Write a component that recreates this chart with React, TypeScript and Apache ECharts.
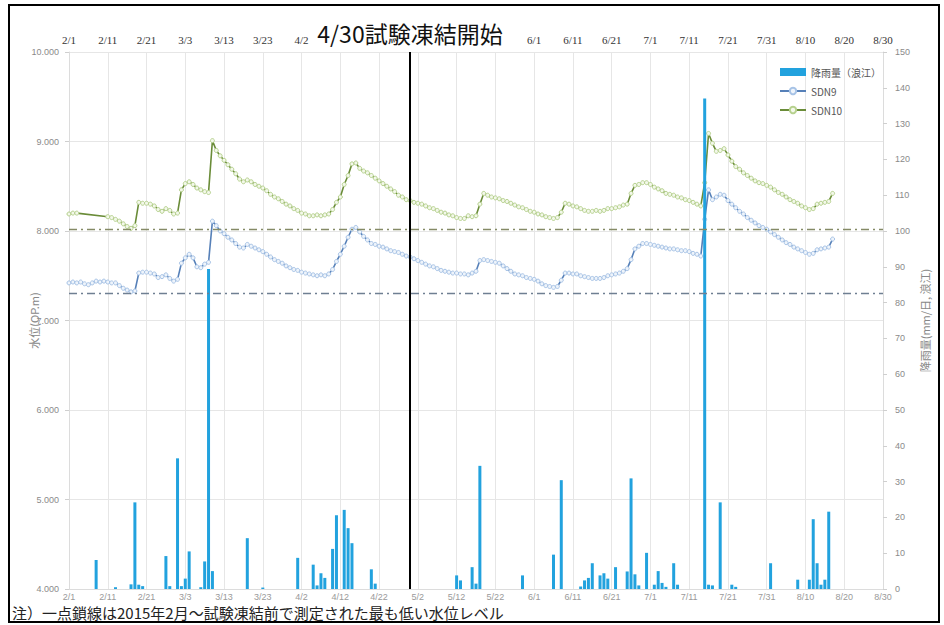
import React, { useEffect, useRef } from "react";
import * as echarts from "echarts";

// ---- categories (daily, 2015/2/1 .. 2015/8/30) ----
const START_YEAR = 2015;
const START_MONTH = 1; // February (0-based)
const N_DAYS = 211;
const CATEGORIES: string[] = Array.from({ length: N_DAYS }, (_, i) => {
  const d = new Date(START_YEAR, START_MONTH, 1 + i);
  return `${d.getMonth() + 1}/${d.getDate()}`;
});
const TICK_LABELS = ["2/1", "2/11", "2/21", "3/3", "3/13", "3/23", "4/2", "4/12", "4/22", "5/2", "5/12", "5/22", "6/1", "6/11", "6/21", "7/1", "7/11", "7/21", "7/31", "8/10", "8/20", "8/30"];
// top-axis labels hidden behind the title box
const TOP_HIDDEN = ["4/12", "4/22", "5/2", "5/12", "5/22"];

// ---- water level SDN10 (OP.m), daily from 2/1 ----
const SDN10: (number | null)[] = [
  8.19, 8.2, 8.2, null, null, null, null, null, null, null,
  8.16, 8.15, 8.13, 8.11, 8.08, 8.05, 8.03, 8.06, 8.32, 8.31,
  8.31, 8.3, 8.28, 8.24, 8.22, 8.25, 8.23, 8.19, 8.2, 8.46,
  8.53, 8.55, 8.52, 8.48, 8.46, 8.44, 8.43, 9.01, 8.9, 8.84,
  8.79, 8.74, 8.69, 8.64, 8.58, 8.55, 8.57, 8.55, 8.52, 8.5,
  8.48, 8.45, 8.41, 8.38, 8.36, 8.33, 8.3, 8.28, 8.25, 8.23,
  8.2, 8.19, 8.17, 8.17, 8.18, 8.17, 8.18, 8.19, 8.24, 8.32,
  8.38, 8.52, 8.62, 8.75, 8.76, 8.7, 8.67, 8.65, 8.62, 8.59,
  8.56, 8.53, 8.5, 8.47, 8.44, 8.4, 8.38, 8.35, 8.34, 8.32,
  8.31, 8.3, 8.28, 8.26, 8.25, 8.23, 8.21, 8.2, 8.18, 8.17,
  8.15, 8.14, 8.14, 8.17, 8.16, 8.17, 8.3, 8.42, 8.4, 8.38,
  8.37, 8.36, 8.34, 8.33, 8.31, 8.29, 8.27, 8.26, 8.24, 8.22,
  8.21, 8.19, 8.18, 8.16, 8.15, 8.14, 8.15, 8.21, 8.31, 8.3,
  8.28, 8.27, 8.25, 8.23, 8.22, 8.22, 8.23, 8.22, 8.23, 8.25,
  8.25, 8.26, 8.27, 8.29, 8.3, 8.42, 8.51, 8.52, 8.54, 8.54,
  8.52, 8.49, 8.47, 8.45, 8.42, 8.41, 8.4, 8.38, 8.37, 8.35,
  8.34, 8.32, 8.3, 8.28, 8.54, 9.09, 8.98, 8.89, 8.9, 8.92,
  8.85, 8.78, 8.72, 8.69, 8.65, 8.62, 8.59, 8.56, 8.54, 8.53,
  8.51, 8.49, 8.46, 8.43, 8.41, 8.38, 8.35, 8.33, 8.31, 8.28,
  8.26, 8.24, 8.25, 8.3, 8.31, 8.32, 8.33, 8.42,
];

// ---- water level SDN9 (OP.m), daily from 2/1 ----
const SDN9: (number | null)[] = [
  7.42, 7.43, 7.42, 7.43, 7.41, 7.4, 7.42, 7.44, 7.43, 7.44,
  7.43, 7.42, 7.42, 7.39, 7.36, 7.34, 7.32, 7.33, 7.53, 7.54,
  7.54, 7.53, 7.52, 7.48, 7.49, 7.51, 7.47, 7.44, 7.46, 7.64,
  7.7, 7.74, 7.7, 7.6, 7.59, 7.63, 7.65, 8.11, 8.06, 8.0,
  7.97, 7.93, 7.9, 7.86, 7.82, 7.81, 7.85, 7.83, 7.81, 7.79,
  7.77, 7.74, 7.71, 7.68, 7.66, 7.64, 7.61, 7.59, 7.57, 7.56,
  7.54, 7.53, 7.52, 7.51, 7.5, 7.51, 7.5, 7.52, 7.57, 7.66,
  7.74, 7.83, 7.93, 8.02, 8.04, 7.99, 7.94, 7.9, 7.86, 7.85,
  7.83, 7.82, 7.8, 7.78, 7.77, 7.76, 7.74, 7.72, 7.71, 7.69,
  7.67, 7.65, 7.63, 7.61, 7.6, 7.58, 7.56, 7.55, 7.54, 7.53,
  7.53, 7.52, 7.52, 7.51, 7.53, 7.55, 7.67, 7.68, 7.67, 7.66,
  7.65, 7.64, 7.61, 7.58, 7.55, 7.52, 7.51, 7.5, 7.48, 7.47,
  7.46, 7.44, 7.41, 7.39, 7.38, 7.37, 7.38, 7.45, 7.53, 7.53,
  7.52, 7.52, 7.5, 7.49, 7.48, 7.47, 7.47, 7.47, 7.48, 7.5,
  7.51, 7.52, 7.53, 7.55, 7.58, 7.68, 7.8, 7.83, 7.86, 7.86,
  7.85, 7.84, 7.83, 7.82, 7.81, 7.8, 7.8, 7.79, 7.78, 7.78,
  7.77, 7.75, 7.74, 7.72, 8.13, 8.46, 8.35, 8.38, 8.41, 8.4,
  8.34, 8.3, 8.26, 8.22, 8.19, 8.15, 8.12, 8.09, 8.06, 8.04,
  8.02, 7.99, 7.96, 7.93, 7.9, 7.87, 7.85, 7.82, 7.8, 7.78,
  7.76, 7.74, 7.75, 7.79, 7.8, 7.81, 7.82, 7.91,
];

// ---- rainfall (mm/day, Namie): day index from 2/1 and amount ----
const RAIN_DAY = [7, 12, 16, 17, 18, 19, 25, 26, 28, 29, 30, 31, 34, 35, 36, 37, 46, 50, 59, 63, 64, 65, 66, 68, 69, 71, 72, 73, 78, 79,
  100, 101, 104, 105, 106, 117, 125, 127, 132, 133, 134, 135, 137, 138, 139, 141, 144, 145, 146, 147, 149,
  151, 152, 153, 154, 156, 157, 164, 165, 166, 168, 171, 172, 181, 188, 191, 192, 193, 194, 195, 196];
const RAIN_MM = [8.1, 0.5, 1.3, 24.2, 1.2, 0.8, 9.2, 0.8, 36.5, 0.8, 2.9, 10.5, 0.5, 7.7, 89.4, 5.0, 14.2, 0.4, 8.7, 6.8, 1.0, 4.4, 3.1, 11.2, 20.6, 22.1, 17.0, 12.8, 5.5, 1.5,
  3.8, 2.4, 6.1, 1.5, 34.4, 3.8, 9.6, 30.4, 0.7, 2.4, 3.1, 7.2, 3.8, 4.4, 2.9, 6.1, 4.9, 30.9, 4.1, 1.0, 10.1,
  1.2, 5.0, 1.7, 0.6, 7.2, 1.2, 137, 1.2, 1.0, 24.2, 1.2, 0.6, 7.2, 2.6, 2.6, 19.5, 7.2, 1.2, 2.6, 21.6];

// ---- reference lines ----
const FREEZE_START = "4/30";
const LOWEST_SDN10 = 8.02;
const LOWEST_SDN9 = 7.31;

const LEFT_AXIS = { min: 4, max: 10, interval: 1 };
const RIGHT_AXIS = { min: 0, max: 150, interval: 10 };

export default function App() {
  const ref = useRef<HTMLDivElement>(null);

  useEffect(() => {
    if (!ref.current) return;
    const chart = echarts.init(ref.current, null, { renderer: "svg" });

    const rain: (number | null)[] = new Array(N_DAYS).fill(null);
    RAIN_DAY.forEach((d, i) => {
      rain[d] = RAIN_MM[i];
    });

    const tickSet = new Set(TICK_LABELS);
    const hiddenTop = new Set(TOP_HIDDEN);
    const isTick = (idx: number) => tickSet.has(CATEGORIES[idx]) && idx % 10 === 0;
    const isTopTick = (idx: number) => isTick(idx) && !hiddenTop.has(CATEGORIES[idx]);

    const dashDot = [8, 4, 2, 4];

    chart.setOption({
      animation: false,
      backgroundColor: "#ffffff",
      textStyle: { fontFamily: "'Noto Sans CJK JP', 'Noto Sans', sans-serif" },
      grid: { left: 69, right: 61, top: 52, bottom: 36, containLabel: false },
      legend: {
        orient: "vertical",
        left: 774,
        top: 62,
        itemGap: 9,
        itemWidth: 26,
        itemHeight: 8,
        textStyle: { fontSize: 10, color: "#555" },
        data: [
          { name: "降雨量（浪江）", icon: "rect" },
          { name: "SDN9" },
          { name: "SDN10" },
        ],
      },
      xAxis: [
        {
          type: "category",
          data: CATEGORIES,
          boundaryGap: false,
          position: "bottom",
          axisLine: { show: true, lineStyle: { color: "#dcdcdc" } },
          axisTick: { show: false },
          axisLabel: {
            interval: (idx: number) => isTick(idx),
            margin: 3,
            fontSize: 9,
            lineHeight: 10,
            color: "#9a9a9a",
            fontFamily: "'Liberation Sans', sans-serif",
          },
          splitLine: { show: true, interval: (idx: number) => isTick(idx), lineStyle: { color: "#e6e6e6", width: 1 } },
        },
        {
          type: "category",
          data: CATEGORIES,
          boundaryGap: false,
          position: "top",
          axisLine: { show: false },
          axisTick: { show: false },
          axisLabel: {
            interval: (idx: number) => isTopTick(idx),
            margin: 7,
            fontSize: 11,
            color: "#333",
            fontFamily: "'Liberation Serif', 'DejaVu Serif', serif",
          },
          splitLine: { show: false },
        },
      ],
      yAxis: [
        {
          type: "value",
          position: "left",
          min: LEFT_AXIS.min,
          max: LEFT_AXIS.max,
          interval: LEFT_AXIS.interval,
          name: "水位(OP.m)",
          nameLocation: "middle",
          nameRotate: 90,
          nameGap: 30,
          nameMoveOverlap: false,
          nameTextStyle: { color: "#888", fontSize: 11 },
          axisLine: { show: true, lineStyle: { color: "#dcdcdc" } },
          axisTick: { show: true, length: 4, lineStyle: { color: "#cfcfcf" } },
          axisLabel: {
            formatter: (v: number) => v.toFixed(3),
            fontSize: 9,
            color: "#8a8a8a",
            margin: 10,
            fontFamily: "'Liberation Sans', sans-serif",
          },
          splitLine: { show: true, lineStyle: { color: "#e6e6e6" } },
        },
        {
          type: "value",
          position: "right",
          min: RIGHT_AXIS.min,
          max: RIGHT_AXIS.max,
          interval: RIGHT_AXIS.interval,
          name: "降雨量(mm/日, 浪江)",
          nameLocation: "middle",
          nameRotate: 90,
          nameGap: 36,
          nameMoveOverlap: false,
          nameTextStyle: { color: "#888", fontSize: 11 },
          axisLine: { show: true, lineStyle: { color: "#dcdcdc" } },
          axisTick: { show: true, length: 4, lineStyle: { color: "#cfcfcf" } },
          axisLabel: {
            fontSize: 9,
            color: "#8a8a8a",
            margin: 12,
            fontFamily: "'Liberation Sans', sans-serif",
          },
          splitLine: { show: false },
        },
      ],
      series: [
        {
          name: "SDN9",
          type: "line",
          xAxisIndex: 0,
          yAxisIndex: 0,
          data: SDN9,
          connectNulls: true,
          showAllSymbol: true,
          symbol: "circle",
          symbolSize: 4,
          lineStyle: { color: "#5680b8", width: 1.6 },
          itemStyle: { color: "#eef4fb", borderColor: "#a7c3e6", borderWidth: 1 },
          z: 3,
          markLine: {
            silent: true,
            symbol: ["none", "none"],
            label: { show: false },
            data: [
              { yAxis: LOWEST_SDN9, lineStyle: { color: "#6f7f92", width: 1.3, type: dashDot } },
              { xAxis: FREEZE_START, lineStyle: { color: "#000000", width: 2, type: "solid" } },
            ],
          },
        },
        {
          name: "SDN10",
          type: "line",
          xAxisIndex: 0,
          yAxisIndex: 0,
          data: SDN10,
          connectNulls: true,
          showAllSymbol: true,
          symbol: "circle",
          symbolSize: 4,
          lineStyle: { color: "#6a8c38", width: 1.6 },
          itemStyle: { color: "#f3f8ea", borderColor: "#b6d18e", borderWidth: 1 },
          z: 3,
          markLine: {
            silent: true,
            symbol: ["none", "none"],
            label: { show: false },
            data: [{ yAxis: LOWEST_SDN10, lineStyle: { color: "#858a66", width: 1.3, type: dashDot } }],
          },
        },
        {
          name: "降雨量（浪江）",
          type: "bar",
          xAxisIndex: 0,
          yAxisIndex: 1,
          data: rain,
          barWidth: 3,
          itemStyle: { color: "#22a2de" },
          z: 4,
        },
      ],
      graphic: [
        {
          type: "text",
          x: 410,
          y: 33,
          z: 100,
          style: {
            text: "4/30試験凍結開始",
            fontSize: 23,
            fill: "#111",
            align: "center",
            verticalAlign: "middle",
            fontFamily: "'Noto Sans CJK JP', sans-serif",
          },
        },
        {
          type: "text",
          x: 12,
          y: 604,
          z: 100,
          style: {
            text: "注）一点鎖線は2015年2月～試験凍結前で測定された最も低い水位レベル",
            fontSize: 15,
            lineHeight: 16,
            fill: "#222",
            align: "left",
            verticalAlign: "top",
            fontFamily: "'Noto Sans CJK JP', sans-serif",
          },
        },
        {
          type: "rect",
          z: 101,
          shape: { x: 9, y: 5, width: 930, height: 617 },
          style: { fill: "none", stroke: "#000", lineWidth: 2 },
        },
      ],
    });

    return () => chart.dispose();
  }, []);

  return (
    <div
      ref={ref}
      style={{ position: "fixed", left: 0, top: 0, width: 944, height: 625, background: "#fff" }}
    />
  );
}
